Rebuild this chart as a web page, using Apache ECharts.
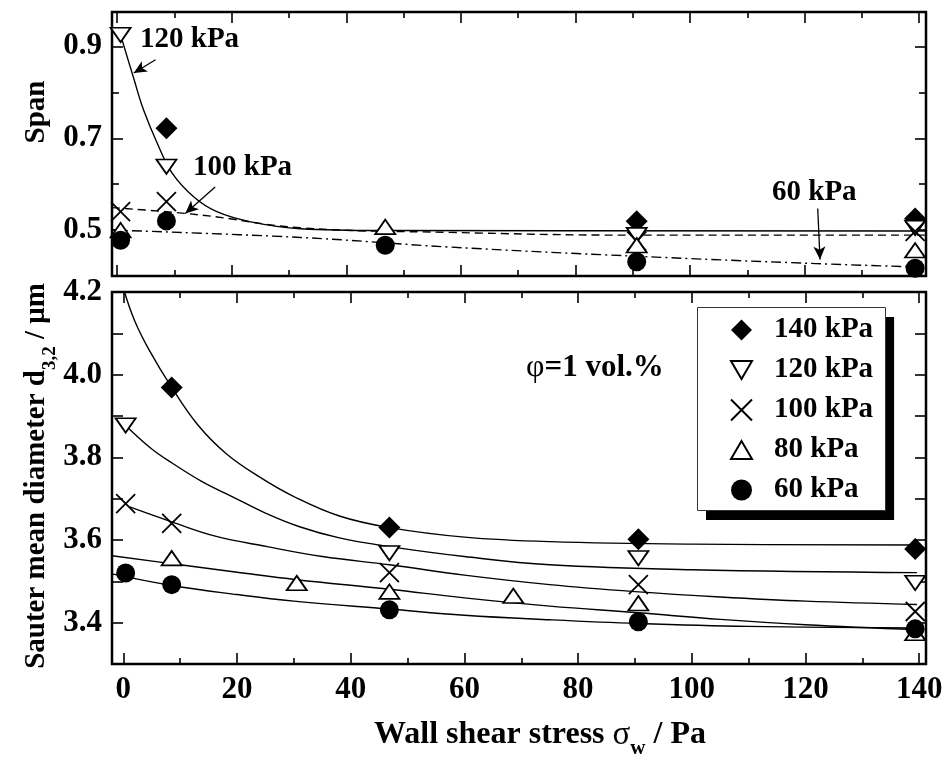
<!DOCTYPE html>
<html>
<head>
<meta charset="utf-8">
<script src="https://cdn.jsdelivr.net/npm/echarts@6/dist/echarts.min.js"></script>
<style>
  html, body { margin: 0; padding: 0; background: #fff; }
  #chart { width: 950px; height: 759px; }
</style>
</head>
<body>
<div id="chart"></div>
<script>
// ---- span (top panel), [wall shear stress Pa, span] ----
const span140 = [[8.6, 0.722], [90.7, 0.519], [139.3, 0.525]];
const span120 = [[0.6, 0.925], [8.6, 0.638], [90.7, 0.489], [139.3, 0.505]];
const span100 = [[0.6, 0.54], [8.6, 0.562], [90.7, 0.476], [139.3, 0.497]];
const span80 = [[0.6, 0.50], [46.8, 0.507], [90.7, 0.467], [139.3, 0.456]];
const span60 = [[0.6, 0.478], [8.6, 0.52], [46.8, 0.467], [90.7, 0.431], [139.3, 0.417]];

// fitted span curves
const spanFit120 = [[0.6, 0.925], [2.9, 0.83], [4.6, 0.762], [7, 0.689], [9.6, 0.624], [13.4, 0.572],
  [17.4, 0.54], [23.3, 0.518], [32, 0.503], [46.8, 0.499], [141.2, 0.498]];
const spanFit100 = [[-0.9, 0.549], [14.5, 0.533], [32, 0.505], [58.1, 0.495], [90, 0.489], [141.2, 0.489]];
const spanFit60 = [[-0.9, 0.5], [32, 0.484], [58.1, 0.463], [90.7, 0.443], [122, 0.427], [139, 0.42]];

// ---- Sauter mean diameter d32 (bottom panel) ----
const d140 = [[8.5, 3.969], [46.8, 3.63], [90.6, 3.602], [139.3, 3.578]];
const d120 = [[0.4, 3.877], [46.8, 3.568], [90.6, 3.556], [139.3, 3.496]];
const d100 = [[0.4, 3.688], [8.5, 3.64], [46.8, 3.521], [90.6, 3.492], [139.3, 3.427]];
const d80 = [[8.5, 3.556], [30.5, 3.496], [46.8, 3.475], [68.6, 3.465], [90.6, 3.447], [139.3, 3.375]];
const d60 = [[0.4, 3.52], [8.5, 3.492], [46.8, 3.431], [90.6, 3.402], [139.3, 3.385]];

const dFit140 = [[0.2, 4.2], [2, 4.13], [4.6, 4.058], [8.5, 3.969], [13, 3.88], [18, 3.81], [24, 3.752],
  [30, 3.705], [38, 3.658], [46.8, 3.63], [60, 3.607], [75, 3.596], [100, 3.59], [139.6, 3.588]];
const dFit120 = [[0.4, 3.877], [5, 3.82], [8.7, 3.785], [14, 3.74], [19.3, 3.704], [25, 3.665], [31, 3.632],
  [38, 3.605], [46.8, 3.584], [60, 3.56], [75, 3.54], [100, 3.528], [139.6, 3.521]];
const dFit100 = [[1.1, 3.68], [8.5, 3.644], [16, 3.61], [25.3, 3.584], [35, 3.56], [46.8, 3.54], [60, 3.515],
  [75, 3.492], [90, 3.475], [105, 3.462], [120, 3.452], [139.6, 3.444]];
const dFit80 = [[-2, 3.562], [10, 3.54], [20, 3.522], [30.5, 3.504], [46.8, 3.481], [60, 3.46], [75, 3.44],
  [90.6, 3.424], [105, 3.408], [120, 3.395], [139.6, 3.383]];
const dFit60 = [[-2, 3.518], [8.5, 3.49], [20, 3.468], [30, 3.452], [46.8, 3.433], [60, 3.418], [75, 3.407],
  [90.6, 3.398], [110, 3.391], [139.6, 3.387]];

const legendNames = ['140 kPa', '120 kPa', '100 kPa', '80 kPa', '60 kPa'];
const xLabels = [0, 20, 40, 60, 80, 100, 120, 140];
const xMinor = [10, 30, 50, 70, 90, 110, 130];
const spanMajor = [0.5, 0.7, 0.9];
const spanMinor = [0.4, 0.6, 0.8];
const dTicks = [3.4, 3.5, 3.6, 3.7, 3.8, 3.9, 4.0, 4.1];
const dLabels = [3.4, 3.6, 3.8, 4.0, 4.2];

const FONT = 'Liberation Serif';
const chart = echarts.init(document.getElementById('chart'));

const SYM = {
  diamond: 'diamond',
  down: 'path://M0,0L20,0L10,17Z',
  up: 'path://M10,0L20,17L0,17Z',
  cross: 'path://M0,0L20,20M20,0L0,20',
  circle: 'circle'
};

function tickAxis(dim, grid, pos, min, max, values, len, labels) {
  const a = {
    type: 'value', gridIndex: grid, position: pos, min: min, max: max,
    splitLine: { show: false },
    axisLine: { show: false, onZero: false },
    axisTick: { show: true, inside: true, length: len, customValues: values,
      lineStyle: { color: '#000', width: 1.6 } },
    axisLabel: { show: false }
  };
  if (labels) {
    a.axisLabel = {
      show: true, customValues: labels, margin: 10,
      fontFamily: FONT, fontWeight: 'bold', fontSize: 31, color: '#000',
      formatter: v => dim === 'y' ? v.toFixed(1) : String(v)
    };
  }
  return a;
}

const X0 = [-0.9, 141.2], X1 = [-2, 141.2];
const Y0 = [0.4, 0.975], Y1 = [3.3, 4.2];

const xAxis = [
  tickAxis('x', 0, 'bottom', X0[0], X0[1], xLabels, 11),      // 0
  tickAxis('x', 0, 'bottom', X0[0], X0[1], xMinor, 6),
  tickAxis('x', 0, 'top', X0[0], X0[1], xLabels, 11),
  tickAxis('x', 0, 'top', X0[0], X0[1], xMinor, 6),
  tickAxis('x', 1, 'bottom', X1[0], X1[1], xLabels, 11, xLabels), // 4
  tickAxis('x', 1, 'bottom', X1[0], X1[1], xMinor, 6),
  tickAxis('x', 1, 'top', X1[0], X1[1], xLabels, 11),
  tickAxis('x', 1, 'top', X1[0], X1[1], xMinor, 6)
];
const yAxis = [
  tickAxis('y', 0, 'left', Y0[0], Y0[1], spanMajor, 11, spanMajor), // 0
  tickAxis('y', 0, 'left', Y0[0], Y0[1], spanMinor, 7),
  tickAxis('y', 0, 'right', Y0[0], Y0[1], spanMajor, 11),
  tickAxis('y', 0, 'right', Y0[0], Y0[1], spanMinor, 7),
  tickAxis('y', 1, 'left', Y1[0], Y1[1], dTicks, 11, dLabels),    // 4
  tickAxis('y', 1, 'right', Y1[0], Y1[1], dTicks, 11)
];

function scatter(name, data, sym, size, filled, xi, yi) {
  return {
    name: name, type: 'scatter', xAxisIndex: xi, yAxisIndex: yi, data: data,
    symbol: sym, symbolSize: size, symbolKeepAspect: true, z: 5,
    itemStyle: filled
      ? { color: '#000', borderColor: '#000', borderWidth: 0, opacity: 1 }
      : { color: sym === SYM.cross ? 'rgba(0,0,0,0)' : '#fff', borderColor: '#000', borderWidth: 1.8, opacity: 1 }
  };
}

function fit(name, data, xi, yi, type) {
  return {
    name: name, type: 'line', xAxisIndex: xi, yAxisIndex: yi, data: data,
    smooth: 0.4, symbol: 'none', clip: true, z: 3,
    lineStyle: { color: '#000', width: 1.4, type: type || 'solid' }
  };
}

const arrowStyle = { color: '#000', width: 1.3, type: 'solid' };

const series = [
  fit('fit span 120', spanFit120, 0, 0),
  Object.assign(fit('fit span 100', spanFit100, 0, 0, [8, 5]), {
    markLine: {
      silent: true, symbol: ['none', 'arrow'], symbolSize: [9, 13],
      label: { show: false }, lineStyle: arrowStyle,
      data: [
        [{ coord: [6.7, 0.871] }, { coord: [2.9, 0.842] }],
        [{ coord: [17.1, 0.594] }, { coord: [11.9, 0.536] }],
        [{ coord: [122.3, 0.547] }, { coord: [122.7, 0.436] }]
      ]
    }
  }),
  fit('fit span 60', spanFit60, 0, 0, [10, 4, 2, 4]),
  scatter('span 140', span140, SYM.diamond, 22, true, 0, 0),
  scatter('span 120', span120, SYM.down, [20, 17], false, 0, 0),
  scatter('span 100', span100, SYM.cross, 19, false, 0, 0),
  scatter('span 80', span80, SYM.up, [20, 17], false, 0, 0),
  scatter('span 60', span60, SYM.circle, 19, true, 0, 0),

  fit('fit d 140', dFit140, 4, 4),
  fit('fit d 120', dFit120, 4, 4),
  fit('fit d 100', dFit100, 4, 4),
  fit('fit d 80', dFit80, 4, 4),
  fit('fit d 60', dFit60, 4, 4),
  scatter('140 kPa', d140, SYM.diamond, 22, true, 4, 4),
  scatter('120 kPa', d120, SYM.down, [20, 17], false, 4, 4),
  scatter('100 kPa', d100, SYM.cross, 19, false, 4, 4),
  scatter('80 kPa', d80, SYM.up, [20, 17], false, 4, 4),
  scatter('60 kPa', d60, SYM.circle, 19, true, 4, 4)
];

function txt(x, y, text, size) {
  return {
    type: 'text', x: x, y: y, z: 10,
    style: { text: text, fill: '#000', fontFamily: FONT, fontWeight: 'bold', fontSize: size,
      align: 'left', verticalAlign: 'middle' }
  };
}

function rich(size) {
  return {
    a: { fontFamily: FONT, fontWeight: 'bold', fontSize: size, lineHeight: size + 1, verticalAlign: 'middle', color: '#000' },
    s: { fontFamily: FONT, fontWeight: 'bold', fontSize: Math.round(size * 0.65), lineHeight: size + 17, verticalAlign: 'bottom', color: '#000' },
    g: { fontFamily: FONT, fontWeight: 'normal', fontSize: size + 1, lineHeight: size + 1, verticalAlign: 'middle', color: '#000' }
  };
}

chart.setOption({
  animation: false,
  backgroundColor: '#fff',
  grid: [
    { left: 112, right: 24, top: 12, height: 264, show: true, borderColor: '#000', borderWidth: 2.5, backgroundColor: 'transparent' },
    { left: 112, right: 24, top: 292, height: 372, show: true, borderColor: '#000', borderWidth: 2.5, backgroundColor: 'transparent' }
  ],
  xAxis: xAxis,
  yAxis: yAxis,
  legend: {
    data: legendNames, orient: 'vertical', left: 697, top: 308,
    padding: [7, 12, 6, 33], itemGap: 10, itemWidth: 21, itemHeight: 21,
    backgroundColor: '#fff', borderWidth: 0,
    shadowColor: '#000', shadowBlur: 0, shadowOffsetX: 9, shadowOffsetY: 9,
    selectedMode: false,
    textStyle: { fontFamily: FONT, fontWeight: 'bold', fontSize: 29, lineHeight: 30, color: '#000', padding: [0, 0, 0, 17] }
  },
  graphic: [
    // thin frame round the legend box
    { type: 'rect', z: 20, silent: true, shape: { x: 697.5, y: 307.5, width: 188, height: 203 },
      style: { fill: 'none', stroke: '#333', lineWidth: 1 } },
    txt(140, 40, '120 kPa', 29),
    txt(193, 168, '100 kPa', 29),
    txt(772, 193, '60 kPa', 29),
    {
      type: 'text', x: 526, y: 368, z: 10,
      style: { text: '{g|φ}{a|=1 vol.%}', rich: rich(31), align: 'left', verticalAlign: 'middle' }
    },
    {
      type: 'text', x: 540, y: 735, z: 10,
      style: { text: '{a|Wall shear stress }{g|σ}{s|w}{a| / Pa}', rich: rich(32), align: 'center', verticalAlign: 'middle' }
    },
    {
      type: 'text', x: 37, y: 112, z: 10, rotation: Math.PI / 2,
      style: { text: 'Span', fill: '#000', fontFamily: FONT, fontWeight: 'bold', fontSize: 29, align: 'center', verticalAlign: 'middle' }
    },
    {
      type: 'text', x: 37, y: 476, z: 10, rotation: Math.PI / 2,
      style: { text: '{a|Sauter mean diameter d}{s|3,2}{a| / μm}', rich: rich(29), align: 'center', verticalAlign: 'middle' }
    }
  ],
  series: series
});
</script>
</body>
</html>
